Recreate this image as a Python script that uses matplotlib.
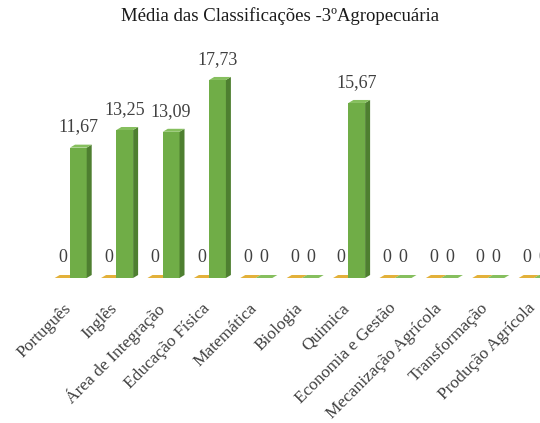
import numpy as np
import matplotlib
matplotlib.use("Agg")
import matplotlib.pyplot as plt
from matplotlib.patches import Polygon

plt.rcParams['font.family'] = ['Liberation Serif', 'DejaVu Serif']

disciplinas = ['Português', 'Inglês', 'Área de Integração', 'Educação Física',
               'Matemática', 'Biologia', 'Quimica', 'Economia e Gestão',
               'Mecanização Agrícola', 'Transformação', 'Produção Agrícola']
serie_laranja = [0, 0, 0, 0, 0, 0, 0, 0, 0, 0, 0]
serie_verde = [11.67, 13.25, 13.09, 17.73, 0, 0, 15.67, 0, 0, 0, 0]

W, H = 540, 423
fig = plt.figure(figsize=(W / 100, H / 100), dpi=100)

# axes placed in pixels: group spacing ~46.4 px, ~11.17 px per unit
px_x, px_y = 46.4, 11.17
x0_px, base_px = 70, 278
left_px, right_px, top_px = 30, 540, 30
ymin = -0.5
bottom_px = base_px - ymin * px_y
ax = fig.add_axes([left_px / W, (H - bottom_px) / H,
                   (right_px - left_px) / W, (bottom_px - top_px) / H])
ax.set_xlim((left_px - x0_px) / px_x, (right_px - x0_px) / px_x)
ax.set_ylim(ymin, (base_px - top_px) / px_y)
ax.axis('off')

x = np.arange(len(disciplinas))
w_or, w_gr = 0.33, 0.36
dx, dy = 5 / px_x, 3 / px_y


def bar3d(xl, width, h, front, side, top):
    ax.bar(xl, h, width, align='edge', color=front, linewidth=0, zorder=3)
    xr = xl + width
    ax.add_patch(Polygon([(xr, 0), (xr + dx, dy), (xr + dx, h + dy), (xr, h)],
                         closed=True, color=side, linewidth=0, zorder=3))
    ax.add_patch(Polygon([(xl, h), (xr, h), (xr + dx, h + dy), (xl + dx, h + dy)],
                         closed=True, color=top, linewidth=0, zorder=3))


for i in x:
    bar3d(i - w_or, w_or, serie_laranja[i], '#D9A21B', '#B8860B', '#E3B13A')
    bar3d(i, w_gr, serie_verde[i], '#70AD47', '#4E7F30', '#86BF5E')
    ax.text(i - w_or / 2, serie_laranja[i] + 1.85, '0', ha='center', va='center',
            fontsize=13, color='#404040')
    lab = f'{serie_verde[i]:.2f}'.replace('.', ',') if serie_verde[i] else '0'
    ax.text(i + w_gr / 2, serie_verde[i] + 1.85, lab, ha='center', va='center',
            fontsize=13, color='#404040', zorder=4)
    ax.text(i - 0.15, -2.0, disciplinas[i], rotation=45, rotation_mode='anchor',
            ha='right', va='top', fontsize=12.5, color='#404040')

fig.text(280 / W, 1 - 16 / H, 'Média das Classificações -3ºAgropecuária',
         ha='center', va='center', fontsize=13.5, color='#1a1a1a')

fig.savefig('out.png', dpi=100)
